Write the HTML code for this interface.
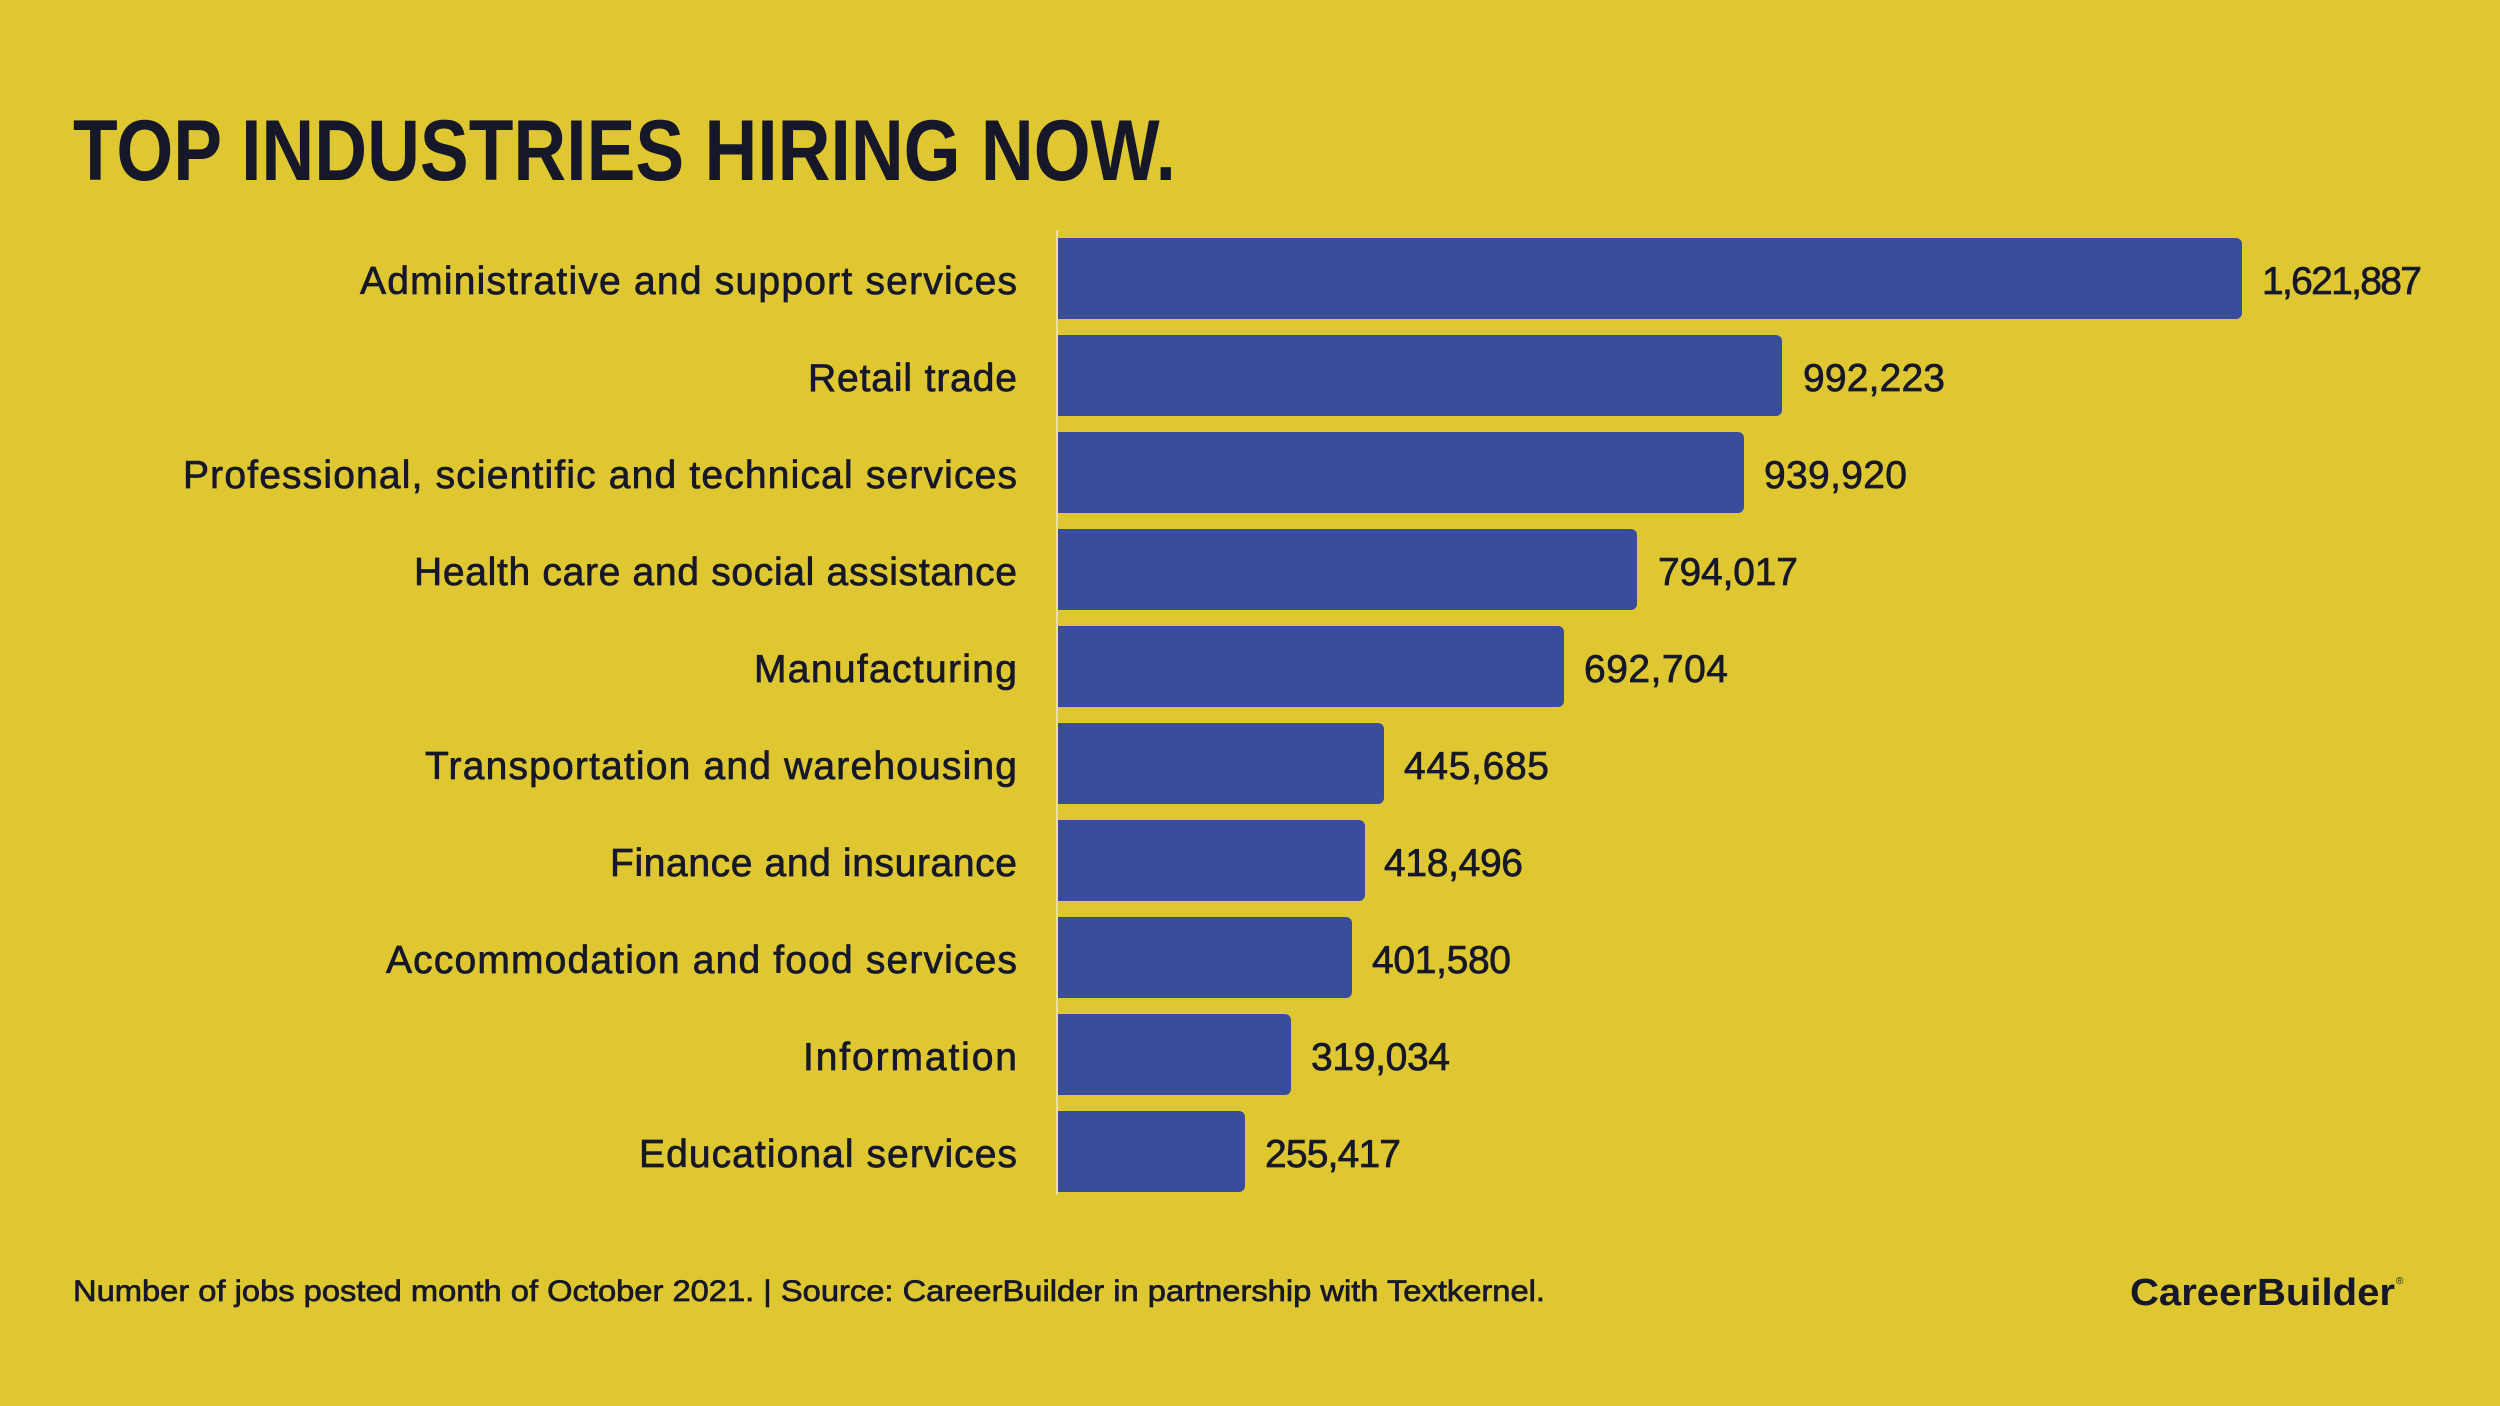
<!DOCTYPE html>
<html><head><meta charset="utf-8"><style>
html,body{margin:0;padding:0;background:#DFC731;}
svg{display:block}
text{font-family:"Liberation Sans",sans-serif;fill:#16182a}
.m{stroke:#16182a;stroke-width:0.7}
</style></head><body>
<svg width="2500" height="1406" viewBox="0 0 2500 1406" xmlns="http://www.w3.org/2000/svg">
<rect width="2500" height="1406" fill="#DFC731"/>
<text x="73" y="180" font-size="86" font-weight="bold" textLength="1103" lengthAdjust="spacingAndGlyphs">TOP INDUSTRIES HIRING NOW.</text>
<line x1="1057" y1="230" x2="1057" y2="1195" stroke="#eee0a0" stroke-width="2"/>
<g fill="#3A4C9C">
<path d="M1058 238 H2236 a6 6 0 0 1 6 6 V313 a6 6 0 0 1 -6 6 H1058Z"/>
<path d="M1058 335 H1776 a6 6 0 0 1 6 6 V410 a6 6 0 0 1 -6 6 H1058Z"/>
<path d="M1058 432 H1738 a6 6 0 0 1 6 6 V507 a6 6 0 0 1 -6 6 H1058Z"/>
<path d="M1058 529 H1631 a6 6 0 0 1 6 6 V604 a6 6 0 0 1 -6 6 H1058Z"/>
<path d="M1058 626 H1558 a6 6 0 0 1 6 6 V701 a6 6 0 0 1 -6 6 H1058Z"/>
<path d="M1058 723 H1378 a6 6 0 0 1 6 6 V798 a6 6 0 0 1 -6 6 H1058Z"/>
<path d="M1058 820 H1359 a6 6 0 0 1 6 6 V895 a6 6 0 0 1 -6 6 H1058Z"/>
<path d="M1058 917 H1346 a6 6 0 0 1 6 6 V992 a6 6 0 0 1 -6 6 H1058Z"/>
<path d="M1058 1014 H1285 a6 6 0 0 1 6 6 V1089 a6 6 0 0 1 -6 6 H1058Z"/>
<path d="M1058 1111 H1239 a6 6 0 0 1 6 6 V1186 a6 6 0 0 1 -6 6 H1058Z"/>
</g>
<g font-size="39" class="m" lengthAdjust="spacingAndGlyphs">
<text x="360" y="294" textLength="657">Administrative and support services</text>
<text x="808" y="391" textLength="209">Retail trade</text>
<text x="183" y="488" textLength="834">Professional, scientific and technical services</text>
<text x="414" y="585" textLength="603">Health care and social assistance</text>
<text x="754" y="682" textLength="263">Manufacturing</text>
<text x="425" y="779" textLength="592">Transportation and warehousing</text>
<text x="610" y="876" textLength="407">Finance and insurance</text>
<text x="386" y="973" textLength="631">Accommodation and food services</text>
<text x="803" y="1070" textLength="214">Information</text>
<text x="639" y="1167" textLength="378">Educational services</text>
</g>
<g font-size="39" class="m" lengthAdjust="spacingAndGlyphs">
<text x="2262" y="294" textLength="160">1,621,887</text>
<text x="1803" y="391" textLength="142">992,223</text>
<text x="1764" y="488" textLength="143">939,920</text>
<text x="1658" y="585" textLength="140">794,017</text>
<text x="1584" y="682" textLength="144">692,704</text>
<text x="1404" y="779" textLength="145">445,685</text>
<text x="1384" y="876" textLength="139">418,496</text>
<text x="1372" y="973" textLength="139">401,580</text>
<text x="1311" y="1070" textLength="139">319,034</text>
<text x="1265" y="1167" textLength="136">255,417</text>
</g>
<text x="73" y="1301" font-size="30" class="m" textLength="1472" lengthAdjust="spacingAndGlyphs">Number of jobs posted month of October 2021. | Source: CareerBuilder in partnership with Textkernel.</text>
<text x="2130" y="1305" font-size="38" font-weight="bold" textLength="265" lengthAdjust="spacingAndGlyphs">CareerBuilder</text>
<text x="2396" y="1284" font-size="10">®</text>
</svg>
</body></html>
